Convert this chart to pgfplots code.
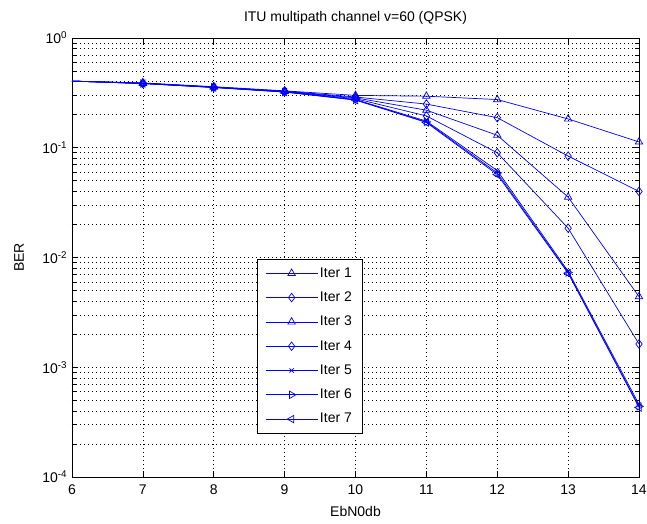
\documentclass[border=0pt]{standalone}
\usepackage{fontspec}
\setmainfont{Liberation Sans}
\usepackage{pgfplots}
\pgfplotsset{compat=1.18}
\begin{document}
\fontsize{14}{16}\selectfont
\begin{tikzpicture}
\begin{axis}[
 scale only axis, width=567pt, height=439pt,
 ymode=log, xmin=6, xmax=14, ymin=1e-4, ymax=1,
 xtick={6,7,8,9,10,11,12,13,14},
 xticklabels={6,7,8,9,10,11,12,13,14},
 ytick={1e-4,1e-3,1e-2,1e-1,1},
 yticklabels={10\textsuperscript{-4},10\textsuperscript{-3},10\textsuperscript{-2},10\textsuperscript{-1},10\textsuperscript{0}},
 minor ytick={2e-4,3e-4,4e-4,5e-4,6e-4,7e-4,8e-4,9e-4,2e-3,3e-3,4e-3,5e-3,6e-3,7e-3,8e-3,9e-3,2e-2,3e-2,4e-2,5e-2,6e-2,7e-2,8e-2,9e-2,2e-1,3e-1,4e-1,5e-1,6e-1,7e-1,8e-1,9e-1},
 grid=both,
 major grid style={black, dash pattern=on 0.8pt off 3.2pt, line width=0.6pt},
 minor grid style={black, dash pattern=on 0.8pt off 3.2pt, line width=0.6pt},
 tick align=inside,
 major tick length=6pt, minor tick length=4pt,
 axis line style={black, line width=0.7pt},
 every tick/.style={black, line width=0.6pt},
 tick label style={font=\fontsize{14}{16}\selectfont},
 label style={font=\fontsize{14}{16}\selectfont},
 title style={font=\fontsize{14}{16}\selectfont, yshift=3pt},
 xticklabel style={yshift=-3pt},
 xlabel style={yshift=-2pt},
 ylabel style={yshift=9pt},
 title={ITU multipath channel v=60 (QPSK)},
 xlabel={EbN0db}, ylabel={BER},
 every axis plot/.append style={blue, line width=0.7pt, mark size=4.3pt, mark phase=2, mark options={solid, fill=none}},
 legend style={at={(0.419,0.298)}, anchor=center, draw=black, fill=white, line width=0.7pt, font=\fontsize{14}{16}\selectfont, row sep=8.5pt, inner xsep=8pt, inner ysep=6pt},
 legend cell align=left,
 legend image code/.code={\draw[blue, mark repeat=2, mark phase=2] plot coordinates {(0pt,0pt) (26pt,0pt) (52pt,0pt)};},
]
\addplot[mark=triangle] coordinates {(6,0.405) (7,0.39) (8,0.36) (9,0.33) (10,0.30) (11,0.295) (12,0.275) (13,0.183) (14,0.113)};
\addlegendentry{Iter 1}
\addplot[mark=diamond] coordinates {(6,0.405) (7,0.388) (8,0.358) (9,0.328) (10,0.29) (11,0.25) (12,0.188) (13,0.084) (14,0.040)};
\addlegendentry{Iter 2}
\addplot[mark=triangle] coordinates {(6,0.405) (7,0.387) (8,0.357) (9,0.326) (10,0.285) (11,0.22) (12,0.13) (13,0.0355) (14,0.0044)};
\addlegendentry{Iter 3}
\addplot[mark=diamond] coordinates {(6,0.405) (7,0.386) (8,0.356) (9,0.325) (10,0.28) (11,0.195) (12,0.090) (13,0.0185) (14,0.00163)};
\addlegendentry{Iter 4}
\addplot[mark=x, mark size=3pt] coordinates {(6,0.405) (7,0.385) (8,0.355) (9,0.323) (10,0.275) (11,0.175) (12,0.062) (13,0.0075) (14,0.00046)};
\addlegendentry{Iter 5}
\addplot[mark=triangle, mark options={rotate=-90}] coordinates {(6,0.405) (7,0.385) (8,0.355) (9,0.322) (10,0.273) (11,0.172) (12,0.059) (13,0.0073) (14,0.00044)};
\addlegendentry{Iter 6}
\addplot[mark=triangle, mark options={rotate=90}] coordinates {(6,0.405) (7,0.385) (8,0.354) (9,0.322) (10,0.272) (11,0.170) (12,0.057) (13,0.0072) (14,0.00043)};
\addlegendentry{Iter 7}
\end{axis}
\pgfresetboundingbox
\path[use as bounding box] (current axis.south west) ++(-72pt,-46pt) rectangle ++(647pt,523pt);
\end{tikzpicture}
\end{document}
